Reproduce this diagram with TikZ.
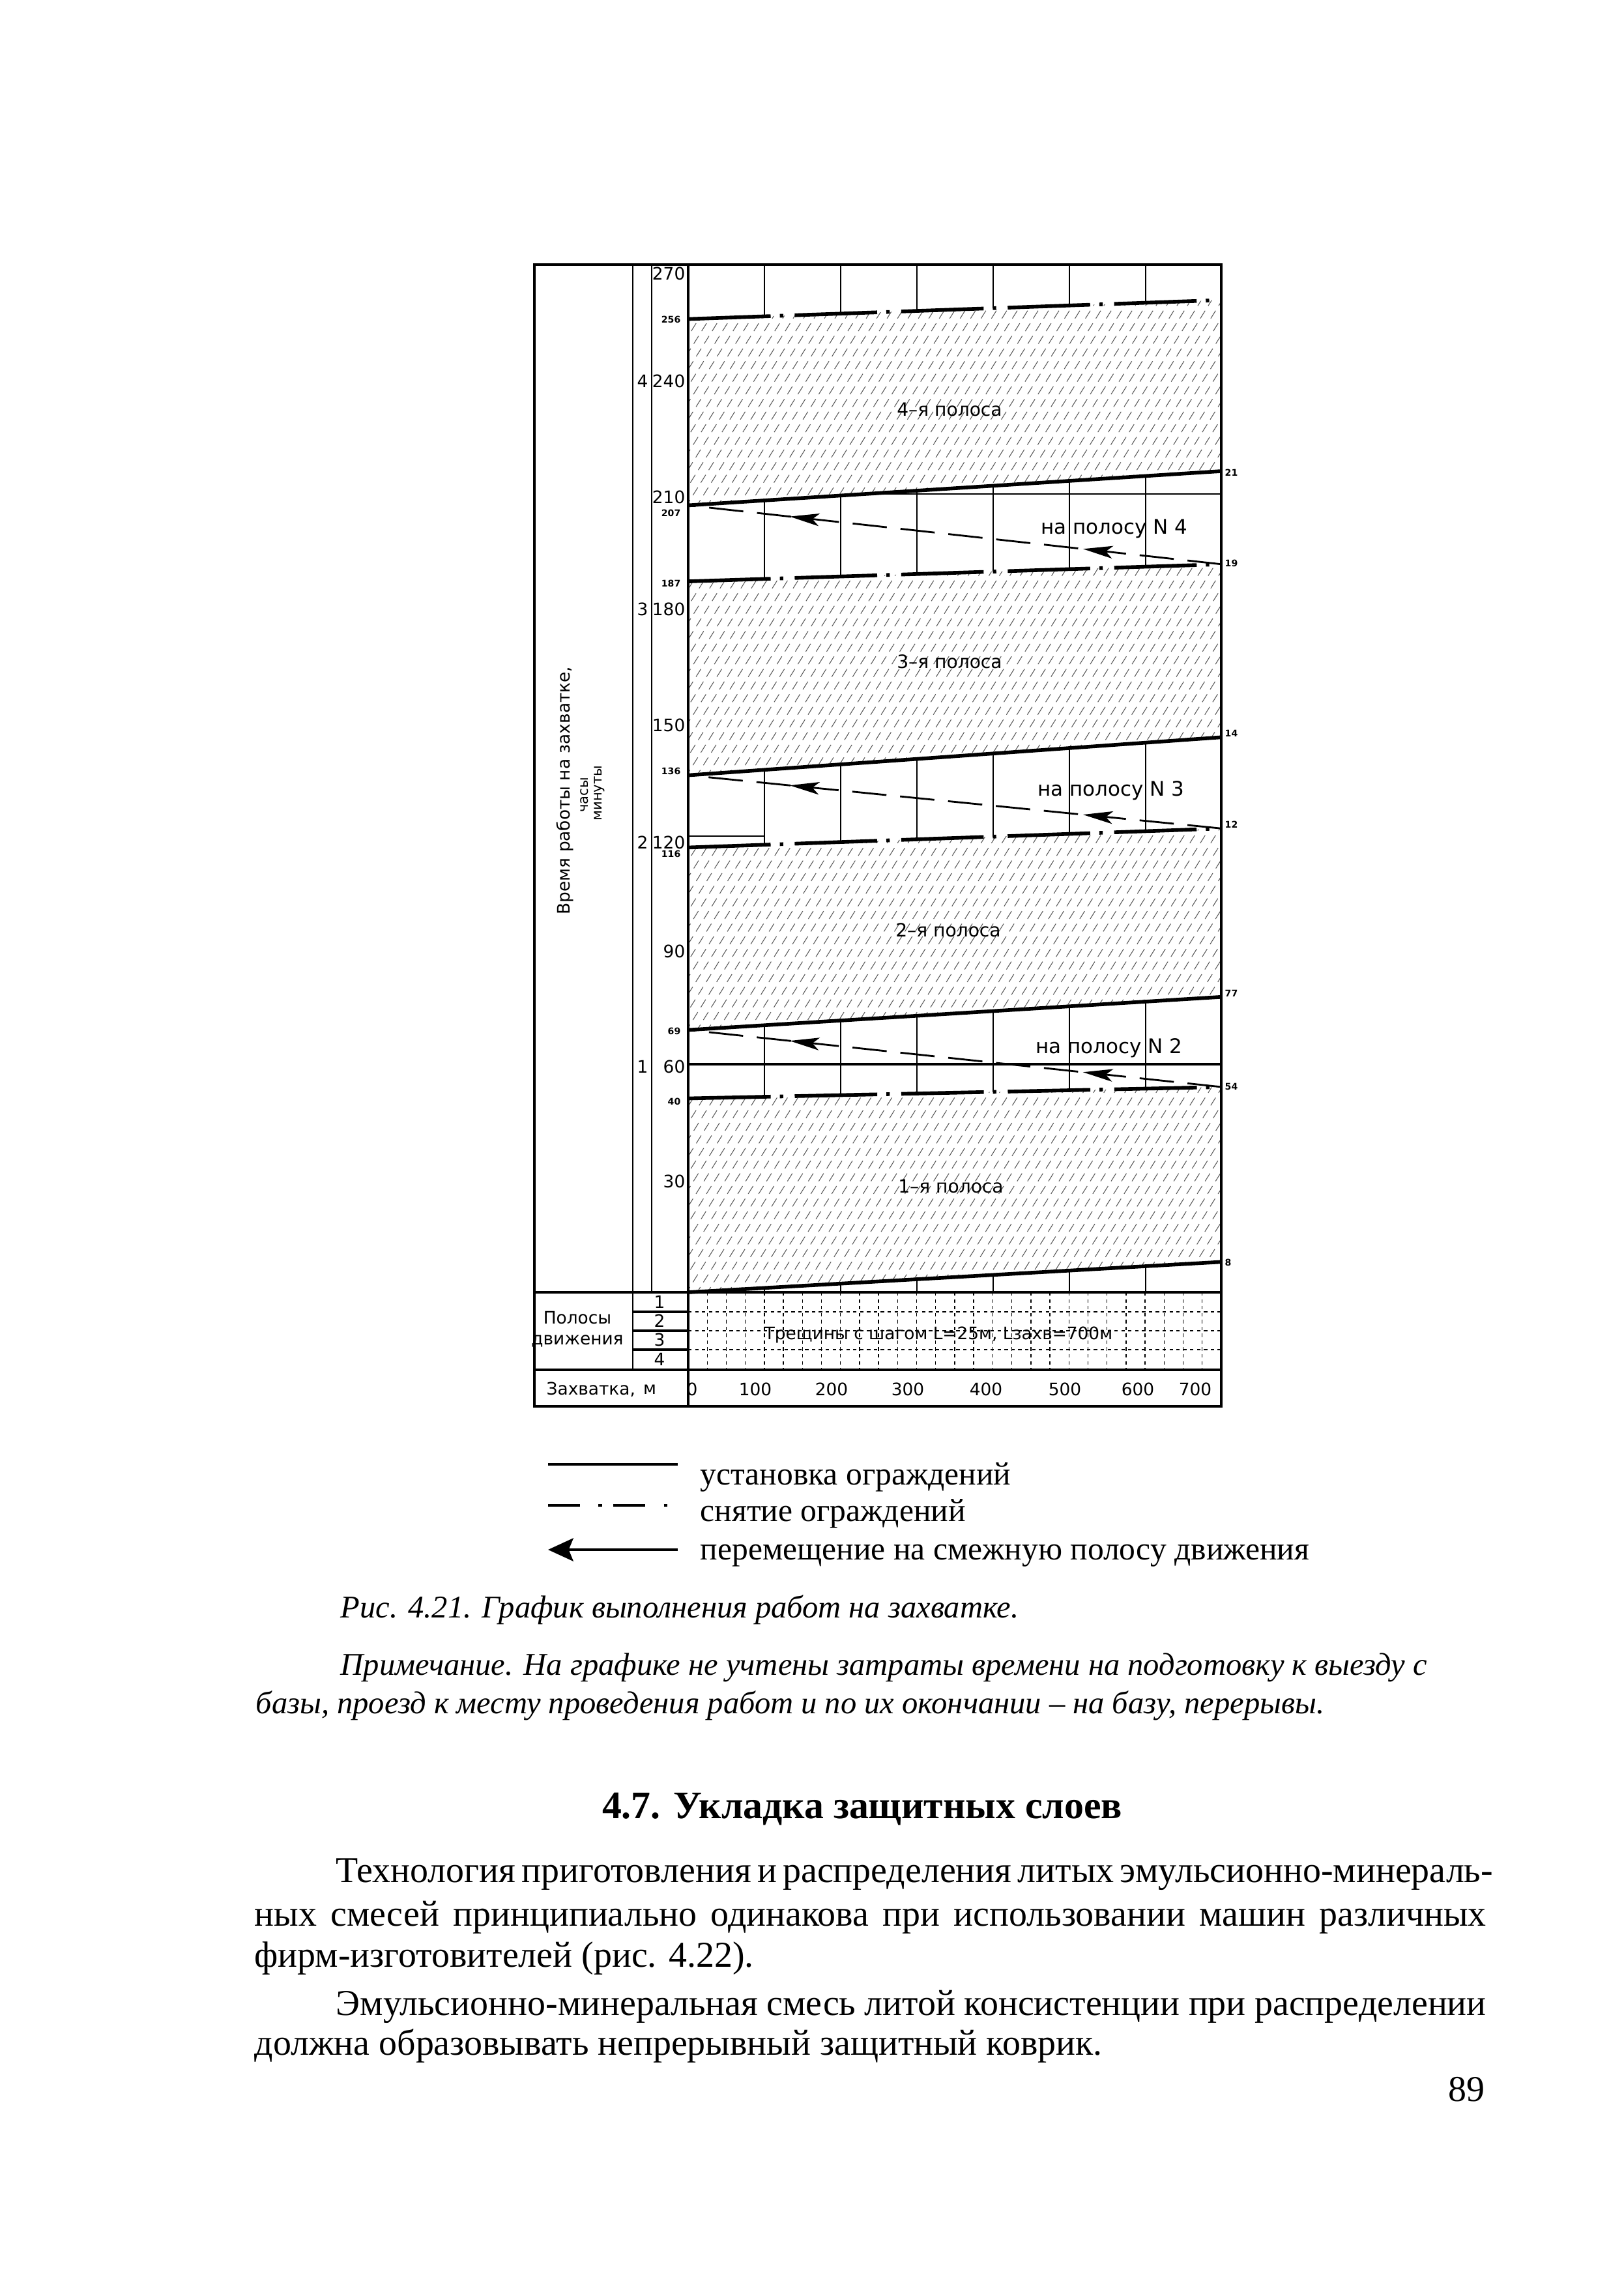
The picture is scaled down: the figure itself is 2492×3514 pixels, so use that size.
\documentclass[tikz,border=0pt]{standalone}
\usepackage{fontspec}
\setmainfont{Liberation Serif}
\newfontfamily\chartfont{DejaVu Sans}
\usetikzlibrary{arrows.meta,decorations.markings}
\tikzset{
  frameline/.style={line width=0.9pt},
  gridline/.style={line width=0.5pt},
  setline/.style={line width=1.6pt},
  remline/.style={line width=1.6pt, dash pattern=on 36pt off 4pt on 1.5pt off 5pt},
  moveline/.style={line width=0.8pt, dash pattern=on 15pt off 6pt},
  hatchline/.style={line width=0.3pt, dash pattern=on 4pt off 2.5pt, black!65},
  lanedot/.style={line width=0.4pt, dash pattern=on 1.5pt off 1.5pt},
  movehead/.style={decoration={markings,
     mark=at position 0.26 with {\arrow{Stealth[length=13pt,width=5.5pt,inset=3pt]}},
     mark=at position 0.81 with {\arrow{Stealth[length=13pt,width=5.5pt,inset=3pt]}}},
     postaction={decorate}},
  numlbl/.style={font=\chartfont\fontsize{7.5}{8}\selectfont, inner sep=0pt},
  smalllbl/.style={font=\chartfont\bfseries\fontsize{4}{4.5}\selectfont, inner sep=0pt},
  bandlbl/.style={font=\chartfont\fontsize{8}{9}\selectfont, inner sep=0pt},
  notelbl/.style={font=\chartfont\fontsize{8.8}{9}\selectfont, inner sep=0pt},
  axlbl/.style={font=\chartfont\fontsize{7.5}{9}\selectfont, inner sep=0pt},
  body/.style={font=\fontsize{15.9}{18}\selectfont, inner sep=0pt, anchor=base west},
  legtext/.style={font=\fontsize{14.1}{16}\selectfont, inner sep=0pt, anchor=base west},
  bodyit/.style={font=\itshape\fontsize{13.8}{16}\selectfont, inner sep=0pt, anchor=base west},
}
\newcommand\hatchband[4]{%
  \fill[white] (0,#1) -- (700,#2) -- (700,#3) -- (0,#4) -- cycle;
  \begin{scope}
    \clip (0,#1) -- (700,#2) -- (700,#3) -- (0,#4) -- cycle;
    \foreach \X in {-220,-206.3,...,700} {\draw[hatchline] (\X,#1-4) -- ++(205,65.7);}
  \end{scope}}
\begin{document}
\begin{tikzpicture}[x=0.01cm,y=-0.01cm]
\useasboundingbox (0,0) rectangle (2492,3514);
\fill[white] (0,0) rectangle (2492,3514);

% ---------- chart body in (metres, minutes) ----------
\begin{scope}[shift={(1056,1983)}, x=0.011686cm, y=0.0583cm]
  \foreach \m in {100,200,...,600} {\draw[gridline] (\m,0) -- (\m,270.5);}
  \draw[line width=0.9pt] (0,60) -- (700,60);
  \draw[gridline] (0,120) -- (100,120);
  \draw[gridline] (0,210) -- (700,210);
  \hatchband{0}{8}{54}{51}
  \hatchband{69}{77.7}{122}{117}
  \hatchband{136}{146}{191.5}{187}
  \hatchband{207}{216}{261}{256}
  % installation / removal / moving lines
  \coordinate (a0) at (0,0);     \coordinate (a1) at (700,8);
  \coordinate (b0) at (0,51);    \coordinate (b1) at (700,54);
  \coordinate (c0) at (0,69);    \coordinate (c1) at (700,77.7);
  \coordinate (d0) at (0,117);   \coordinate (d1) at (700,122);
  \coordinate (e0) at (0,136);   \coordinate (e1) at (700,146);
  \coordinate (f0) at (0,187);   \coordinate (f1) at (700,191.5);
  \coordinate (g0) at (0,207);   \coordinate (g1) at (700,216);
  \coordinate (h0) at (0,256);   \coordinate (h1) at (700,261);
  \draw[setline] (a0) -- (a1);
  \draw[remline] (b0) -- (b1);
  \draw[moveline, movehead] (b1) -- (c0);
  \draw[setline] (c0) -- (c1);
  \draw[remline] (d0) -- (d1);
  \draw[moveline, movehead] (d1) -- (e0);
  \draw[setline] (e0) -- (e1);
  \draw[remline] (f0) -- (f1);
  \draw[moveline, movehead] (f1) -- (g0);
  \draw[setline] (g0) -- (g1);
  \draw[remline] (h0) -- (h1);
\end{scope}

% ---------- frame and table ----------
\draw[frameline] (820,406) rectangle (1874,2158);
\draw[frameline] (820,1983) -- (1874,1983);
\draw[frameline] (820,2102) -- (1874,2102);
\draw[gridline] (971,406) -- (971,2102);
\draw[gridline] (1000,406) -- (1000,1983);
\draw[frameline] (1056,406) -- (1056,2158);
\foreach \yy in {2013,2042,2071} {
  \draw[frameline] (971,\yy) -- (1056,\yy);
  \draw[lanedot] (1056,\yy) -- (1874,\yy);}
\foreach \k in {1,...,27} {\draw[lanedot] ({1056+29.21*\k},1983) -- ++(0,119);}

% ---------- minute labels ----------
\node[numlbl, anchor=east] (m270) at (1052,420) {270};
\node[numlbl, anchor=east] (m240) at (1052,585) {240};
\node[numlbl, anchor=east] (m210) at (1052,763) {210};
\node[numlbl, anchor=east] (m180) at (1052,935) {180};
\node[numlbl, anchor=east] (m150) at (1052,1113) {150};
\node[numlbl, anchor=east] (m120) at (1052,1293) {120};
\node[numlbl, anchor=east] (m90) at (1052,1460) {90};
\node[numlbl, anchor=east] (m60) at (1052,1637) {60};
\node[numlbl, anchor=east] (m30) at (1052,1813) {30};
\node[smalllbl, anchor=east] (s256) at (1045,490) {256};
\node[smalllbl, anchor=east] (s207) at (1045,787) {207};
\node[smalllbl, anchor=east] (s187) at (1045,895) {187};
\node[smalllbl, anchor=east] (s136) at (1045,1183) {136};
\node[smalllbl, anchor=east] (s116) at (1045,1310) {116};
\node[smalllbl, anchor=east] (s69) at (1045,1582) {69};
\node[smalllbl, anchor=east] (s40) at (1045,1690) {40};
% hours
\node[numlbl] (h4) at (986,585) {4};
\node[numlbl] (h3) at (986,935) {3};
\node[numlbl] (h2) at (986,1293) {2};
\node[numlbl] (h1) at (986,1637) {1};
% right edge labels
\node[smalllbl, anchor=west] (r1) at (1879,725) {21};
\node[smalllbl, anchor=west] (r2) at (1879,864) {19};
\node[smalllbl, anchor=west] (r3) at (1879,1125) {14};
\node[smalllbl, anchor=west] (r4) at (1879,1265) {12};
\node[smalllbl, anchor=west] (r5) at (1879,1524) {77};
\node[smalllbl, anchor=west] (r6) at (1879,1667) {54};
\node[smalllbl, anchor=west] (r7) at (1879,1937) {8};
% band labels
\node[bandlbl] (p4) at (1457,628) {4–я полоса};
\node[bandlbl] (p3) at (1457,1015) {3–я полоса};
\node[bandlbl] (p2) at (1455,1427) {2–я полоса};
\node[bandlbl] (p1) at (1459,1820) {1–я полоса};
\node[notelbl] (n4) at (1710,811) {на полосу N 4};
\node[notelbl] (n3) at (1705,1213) {на полосу N 3};
\node[notelbl] (n2) at (1702,1608) {на полосу N 2};
% vertical axis title
\node[axlbl, rotate=90] (vt1) at (867,1213) {Время работы на захватке,};
\node[font=\chartfont\fontsize{6}{7}\selectfont, inner sep=0pt, rotate=90] (vt2) at (897,1220) {часы};
\node[font=\chartfont\fontsize{6}{7}\selectfont, inner sep=0pt, rotate=90] (vt3) at (920,1217) {минуты};
% lane table
\node[axlbl, align=center] (lanes) at (886,2040) {Полосы\\движения};
\node[numlbl] (l1) at (1012,1998) {1};
\node[numlbl] (l2) at (1012,2027) {2};
\node[numlbl] (l3) at (1012,2056) {3};
\node[numlbl] (l4) at (1012,2086) {4};
\node[axlbl] (cracks) at (1440,2048) {Трещины с шагом L=25м, Lзахв=700м};
\node[axlbl, anchor=west] (zah) at (838,2132) {Захватка,};
\node[axlbl] (zahm) at (997,2132) {м};
\node[numlbl] (x0) at (1062,2132) {0};
\node[numlbl] (x1) at (1159,2132) {100};
\node[numlbl] (x2) at (1276,2132) {200};
\node[numlbl] (x3) at (1393,2132) {300};
\node[numlbl] (x4) at (1513,2132) {400};
\node[numlbl] (x5) at (1634,2132) {500};
\node[numlbl] (x6) at (1746,2132) {600};
\node[numlbl] (x7) at (1834,2132) {700};

% ---------- legend ----------
\coordinate (la) at (841,2247); \coordinate (lb) at (1040,2247);
\coordinate (lc) at (841,2310); \coordinate (ld) at (1025,2310);
\coordinate (le) at (1040,2378); \coordinate (lf) at (841,2378);
\draw[line width=1.3pt] (la) -- (lb);
\draw[line width=1.3pt, dash pattern=on 14pt off 8pt on 1.5pt off 5pt] (lc) -- (ld);
\draw[line width=1.3pt, -{Stealth[length=11pt,width=10pt,inset=2pt]}] (le) -- (lf);
\node[legtext] (t1) at (1074,2278) {установка ограждений};
\node[legtext] (t2) at (1074,2334) {снятие ограждений};
\node[legtext] (t3) at (1074,2393) {перемещение на смежную полосу движения};

% ---------- caption and page text ----------
\node[bodyit] (cap) at (522,2482) {Рис. 4.21. График выполнения работ на захватке.};
\node[bodyit] (note1) at (522,2570) {Примечание. На графике не учтены затраты времени на подготовку к выезду с};
\node[bodyit] (note2) at (392,2629) {базы, проезд к месту проведения работ и по их окончании – на базу, перерывы.};
\node[font=\bfseries\fontsize{17}{19}\selectfont, inner sep=0pt, anchor=base] (head) at (1323,2790) {4.7. Укладка защитных слоев};
\node[body] (b1) at (515,2888) {\makebox[17.64cm][s]{Технология приготовления и распределения литых эмульсионно-минераль-}};
\node[body] (b2) at (390,2955) {\makebox[18.89cm][s]{ных смесей принципиально одинакова при использовании машин различных}};
\node[body] (b3) at (390,3018) {фирм-изготовителей (рис. 4.22).};
\node[body] (b4) at (515,3092) {\makebox[17.64cm][s]{Эмульсионно-минеральная смесь литой консистенции при распределении}};
\node[body] (b5) at (390,3153) {должна образовывать непрерывный защитный коврик.};
\node[font=\fontsize{15.9}{18}\selectfont, inner sep=0pt, anchor=base east] (pg) at (2279,3224) {89};
\end{tikzpicture}
\end{document}
